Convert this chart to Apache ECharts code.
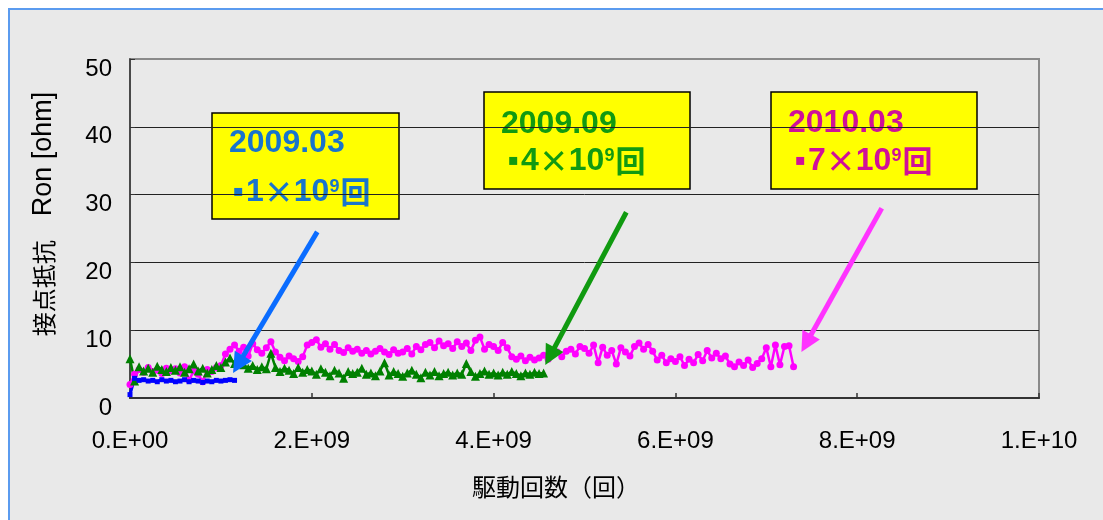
<!DOCTYPE html>
<html>
<head>
<meta charset="utf-8">
<script src="https://cdn.jsdelivr.net/npm/echarts@6/dist/echarts.min.js"></script>
<style>
html, body { margin: 0; padding: 0; background: #fff; overflow: hidden; }
#frame { position: absolute; left: 8px; top: 8px; width: 1200px; height: 600px; background: #e9e9e9; border: 2px solid #5b9bef; }
#chart { position: absolute; left: 0; top: 0; width: 1103px; height: 520px; }
</style>
</head>
<body>
<div id="frame"></div>
<div id="chart"></div>
<script>
// x unit: 10^9 cycles, one sample every 0.05 (5x10^7 cycles)
const STEP = 0.05;
const xTicks = ['0.E+00', '2.E+09', '4.E+09', '6.E+09', '8.E+09', '1.E+10'];

// 2009.03 measurement (blue)
const ron0903 = [0.5, 2.9, 2.6, 2.7, 2.5, 2.6, 2.4, 2.7, 2.5, 2.6,
                 2.4, 2.5, 2.7, 2.4, 2.6, 2.5, 2.3, 2.5, 2.4, 2.6,
                 2.5, 2.6, 2.7, 2.6];

// 2009.09 measurement (green)
const ron0909 = [5.8, 2.5, 4.6, 4.0, 4.4, 3.8, 4.7, 4.2, 3.9, 4.5,
                 4.1, 4.6, 3.8, 4.3, 5.0, 4.0, 4.4, 3.7, 4.2, 4.8,
                 4.5, 5.3, 5.9, 5.1, 5.6, 4.9, 4.4, 4.8, 4.2, 4.6,
                 4.3, 6.6, 4.5, 3.9, 4.4, 4.1, 3.6, 4.5, 3.8, 4.2,
                 4.0, 3.5, 4.3, 3.8, 3.3, 4.1, 3.7, 2.9, 3.9, 3.6,
                 3.8, 4.4, 3.5, 3.7, 3.3, 4.0, 5.2, 3.4, 3.9, 3.6,
                 3.2, 3.7, 4.1, 3.5, 3.0, 3.8, 3.4, 3.9, 3.3, 3.6,
                 3.8, 3.4, 3.7, 3.5, 5.1, 3.9, 3.2, 3.6, 4.0, 3.5,
                 3.7, 3.4, 3.8, 3.5, 3.9, 3.6, 3.3, 3.7, 3.5, 3.8,
                 3.6, 3.7];

// 2010.03 measurement (magenta)
const ron1003 = [2.0, 3.5, 4.2, 3.8, 4.5, 3.9, 4.1, 3.6, 4.4, 4.0,
                 4.3, 3.7, 4.6, 2.6, 4.0, 3.5, 2.4, 4.2, 3.9, 4.5,
                 4.8, 6.5, 7.2, 7.8, 6.9, 7.5, 6.2, 8.0, 7.1, 6.6,
                 7.4, 8.3, 6.8, 6.0, 5.5, 6.2, 5.8, 5.4, 6.1, 7.8,
                 8.2, 8.6, 7.5, 8.0, 7.2, 7.9, 7.0, 6.7, 7.4, 6.9,
                 7.2, 6.6, 7.0, 6.5, 6.9, 7.3, 6.8, 6.4, 7.1, 6.6,
                 6.8, 7.3, 6.5, 7.6, 7.1, 7.9, 8.2, 7.4, 8.4, 7.7,
                 8.0, 7.3, 8.3, 7.6, 8.1, 7.0, 8.5, 9.0, 7.2, 7.9,
                 7.6, 7.0, 8.2, 7.4, 6.1, 5.7, 6.2, 5.5, 6.0, 5.6,
                 5.9, 6.3, 5.7, 6.4, 6.8, 6.1, 6.9, 7.2, 6.5, 7.6,
                 7.3, 6.6, 7.8, 5.2, 7.5, 6.3, 7.0, 5.0, 7.4, 6.8,
                 6.2, 7.6, 8.1, 7.2, 7.9, 6.9, 5.6, 6.3, 5.2, 5.8,
                 5.4, 6.1, 4.8, 5.7, 5.2, 6.4, 5.5, 7.0, 5.9, 6.6,
                 5.8, 6.2, 5.0, 4.6, 5.3, 4.8, 5.6, 4.5, 5.1, 5.8,
                 7.4, 4.6, 7.8, 4.9, 7.6, 7.7, 4.6];

const noteDates = ['2009.03', '2009.09', '2010.03'];
const noteCounts = ['1', '4', '7'];

function toPoints(arr) {
    return arr.map((v, i) => [Number((i * STEP).toFixed(2)), v]);
}

function note(x, y, w, h, color, date, n, dy1, dy2, dx2) {
    return {
        type: 'group',
        children: [
            { type: 'rect', shape: { x: x, y: y, width: w, height: h },
              style: { fill: '#ffff00', stroke: '#000', lineWidth: 1.5 } },
            { type: 'text', x: x + 17, y: y + dy1,
              style: { text: date, fill: color, fontFamily: 'Liberation Sans', fontWeight: 'bold', fontSize: 32, verticalAlign: 'middle' } },
            { type: 'text', x: x + dx2, y: y + dy2,
              style: {
                  text: '{b|▪}{d|' + n + '}{m|×}{d|10}{s|9}{m|回}',
                  fill: color, verticalAlign: 'middle',
                  rich: {
                      b: { fill: color, fontFamily: 'DejaVu Sans', fontWeight: 'bold', fontSize: 16, width: 13 },
                      d: { fill: color, fontFamily: 'Liberation Sans', fontWeight: 'bold', fontSize: 32, lineHeight: 34 },
                      m: { fill: color, fontFamily: 'Noto Sans CJK JP', fontWeight: 'bold', fontSize: 30, lineHeight: 34 },
                      s: { fill: color, fontFamily: 'Liberation Sans', fontWeight: 'bold', fontSize: 18, verticalAlign: 'top', padding: [3, 1, 0, 0] }
                  }
              } }
        ]
    };
}

function arrowLine(color, from, to) {
    return {
        silent: true,
        symbol: ['none', 'triangle'],
        symbolSize: 20,
        label: { show: false },
        emphasis: { disabled: true },
        lineStyle: { color: color, width: 5, type: 'solid' },
        data: [[{ coord: from }, { coord: to }]]
    };
}

const chart = echarts.init(document.getElementById('chart'));
chart.setOption({
    animation: false,
    backgroundColor: 'transparent',
    grid: { left: 130, right: 64, top: 59, bottom: 122, show: true, borderColor: '#8a8a8a', borderWidth: 2, backgroundColor: 'transparent' },
    xAxis: {
        type: 'value', min: 0, max: 10, interval: 2,
        axisLine: { show: true, onZero: false, lineStyle: { color: '#333', width: 2 } },
        axisTick: { show: true, inside: true, length: 5, lineStyle: { color: '#333', width: 1.5 } },
        axisLabel: {
            fontFamily: 'Liberation Sans', fontSize: 24, color: '#000', margin: 31,
            formatter: (v) => xTicks[Math.round(v / 2)]
        },
        splitLine: { show: false }
    },
    yAxis: {
        type: 'value', min: 0, max: 50, interval: 10,
        axisLine: { show: true, lineStyle: { color: '#333', width: 1.5 } },
        axisTick: { show: true, inside: true, length: 5, lineStyle: { color: '#333' } },
        axisLabel: { fontFamily: 'Liberation Sans', fontSize: 24, color: '#000', margin: 18, verticalAlign: 'top', lineHeight: 20 },
        splitLine: { show: true, showMaxLine: false, lineStyle: { color: '#222', width: 1 } }
    },
    series: [
        {
            name: noteDates[2], type: 'line', data: toPoints(ron1003),
            symbol: 'circle', symbolSize: 7,
            itemStyle: { color: '#ff00ff' }, lineStyle: { color: '#ff00ff', width: 2.5 },
            markLine: arrowLine('#ff33ff', [8.27, 28.0], [7.44, 8.07])
        },
        {
            name: noteDates[1], type: 'line', data: toPoints(ron0909),
            symbol: 'triangle', symbolSize: 9,
            itemStyle: { color: '#008000' }, lineStyle: { color: '#008000', width: 2.5 },
            markLine: arrowLine('#109a10', [5.46, 27.4], [4.62, 6.17])
        },
        {
            name: noteDates[0], type: 'line', data: toPoints(ron0903),
            symbol: 'rect', symbolSize: 5,
            itemStyle: { color: '#0000ff' }, lineStyle: { color: '#0000ff', width: 3 },
            markLine: arrowLine('#0a6cff', [2.06, 24.5], [1.19, 4.95])
        }
    ],
    graphic: [
        note(212, 113, 187, 106, '#1874cd', noteDates[0], noteCounts[0], 30, 79, 21),
        note(484, 92, 206, 97, '#119a11', noteDates[1], noteCounts[1], 32, 69, 24),
        note(771, 92, 206, 97, '#d0109a', noteDates[2], noteCounts[2], 31, 69, 24),
        {
            type: 'text', x: 556, y: 487,
            style: { text: '駆動回数（回）', fill: '#000', fontFamily: 'Noto Sans CJK JP', fontSize: 24, align: 'center', verticalAlign: 'middle' }
        },
        {
            type: 'text', x: 44, y: 214, rotation: Math.PI / 2,
            style: {
                text: '{c|接点抵抗　}{l|Ron [ohm]}', fill: '#000', align: 'center', verticalAlign: 'middle',
                rich: {
                    c: { fill: '#000', fontFamily: 'Noto Sans CJK JP', fontSize: 24 },
                    l: { fill: '#000', fontFamily: 'Liberation Sans', fontSize: 27 }
                }
            }
        }
    ]
});
</script>
</body>
</html>
